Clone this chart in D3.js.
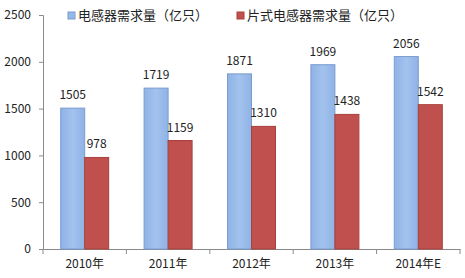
<!DOCTYPE html>
<html>
<head>
<meta charset="utf-8">
<script src="https://cdn.jsdelivr.net/npm/d3@7"></script>
<style>
  body { margin: 0; background: #fff; }
  text { font-family: "Noto Sans CJK SC", "DejaVu Sans", sans-serif; }
</style>
</head>
<body>
<div id="chart"></div>
<script>
// data
const years = ["2010年", "2011年", "2012年", "2013年", "2014年E"];
const totalDemand = [1505, 1719, 1871, 1969, 2056];
const chipDemand = [978, 1159, 1310, 1438, 1542];
const seriesNames = ["电感器需求量（亿只）", "片式电感器需求量（亿只）"];
const yTicks = [0, 500, 1000, 1500, 2000, 2500];

const W = 465, H = 278;
const margin = {top: 15, right: 5, bottom: 29, left: 43};
const width = W - margin.left - margin.right,
      height = H - margin.top - margin.bottom;

const svg = d3.select("#chart")
  .append("svg")
    .attr("width", W)
    .attr("height", H);

const defs = svg.append("defs");
const grad = defs.append("linearGradient")
  .attr("id", "blueGrad")
  .attr("x1", "0").attr("x2", "1").attr("y1", "0").attr("y2", "0");
grad.append("stop").attr("offset", "0%").attr("stop-color", "#8fb3e6");
grad.append("stop").attr("offset", "50%").attr("stop-color", "#a3c2ee");
grad.append("stop").attr("offset", "100%").attr("stop-color", "#8fb3e6");

const g = svg.append("g")
  .attr("transform", `translate(${margin.left}, ${margin.top})`);

const x = d3.scaleBand()
  .domain(years)
  .range([0, width]);

const y = d3.scaleLinear()
  .domain([0, 2500])
  .range([height, 0]);

const barW = 24;
const pairOffset = (x.bandwidth() - barW * 2) / 2;

// Y axis
const yAxis = g.append("g")
  .call(d3.axisLeft(y).tickValues(yTicks).tickFormat(d3.format("d")).tickSize(4).tickPadding(8));
yAxis.select(".domain").attr("stroke", "#8a8a8a");
yAxis.selectAll(".tick line").attr("stroke", "#8a8a8a");
yAxis.selectAll(".tick text")
  .attr("font-size", 12)
  .attr("fill", "#222");

// X axis
const xAxis = g.append("g")
  .attr("transform", `translate(0, ${height})`)
  .call(d3.axisBottom(x).tickSize(0).tickPadding(10));
xAxis.select(".domain").attr("stroke", "#8a8a8a");
xAxis.selectAll(".tick text")
  .attr("font-size", 12)
  .attr("fill", "#222");
// category separators
xAxis.selectAll(".sep")
  .data(years.concat(["end"]))
  .enter()
  .append("line")
    .attr("x1", (d, i) => i * x.step())
    .attr("x2", (d, i) => i * x.step())
    .attr("y1", 0)
    .attr("y2", 5)
    .attr("stroke", "#8a8a8a");

// bars
g.selectAll(".bar1")
  .data(totalDemand)
  .enter()
  .append("rect")
    .attr("x", (d, i) => x(years[i]) + pairOffset)
    .attr("y", d => y(d))
    .attr("width", barW)
    .attr("height", d => height - y(d))
    .attr("fill", "url(#blueGrad)")
    .attr("stroke", "#7b9cd0")
    .attr("stroke-width", 1);

g.selectAll(".bar2")
  .data(chipDemand)
  .enter()
  .append("rect")
    .attr("x", (d, i) => x(years[i]) + pairOffset + barW)
    .attr("y", d => y(d))
    .attr("width", barW)
    .attr("height", d => height - y(d))
    .attr("fill", "#c0504d")
    .attr("stroke", "#a8403d")
    .attr("stroke-width", 1);

// value labels
g.selectAll(".lab1")
  .data(totalDemand)
  .enter()
  .append("text")
    .attr("x", (d, i) => x(years[i]) + pairOffset + barW / 2)
    .attr("y", d => y(d) - 9)
    .attr("text-anchor", "middle")
    .attr("font-size", 12)
    .attr("fill", "#222")
    .text(d => d);

g.selectAll(".lab2")
  .data(chipDemand)
  .enter()
  .append("text")
    .attr("x", (d, i) => x(years[i]) + pairOffset + barW * 1.5)
    .attr("y", d => y(d) - 9)
    .attr("text-anchor", "middle")
    .attr("font-size", 12)
    .attr("fill", "#222")
    .text(d => d);

// legend
const legend = svg.append("g");
const legendX = [68, 237];
const legendCol = ["#95b8e8", "#c0504d"];
const legendStroke = ["#7b9cd0", "#a8403d"];
seriesNames.forEach((name, i) => {
  legend.append("rect")
    .attr("x", legendX[i])
    .attr("y", 12)
    .attr("width", 7)
    .attr("height", 7)
    .attr("fill", legendCol[i])
    .attr("stroke", legendStroke[i]);
  legend.append("text")
    .attr("x", legendX[i] + 10)
    .attr("y", 20)
    .attr("font-size", 13)
    .attr("fill", "#222")
    .text(name);
});
</script>
</body>
</html>
